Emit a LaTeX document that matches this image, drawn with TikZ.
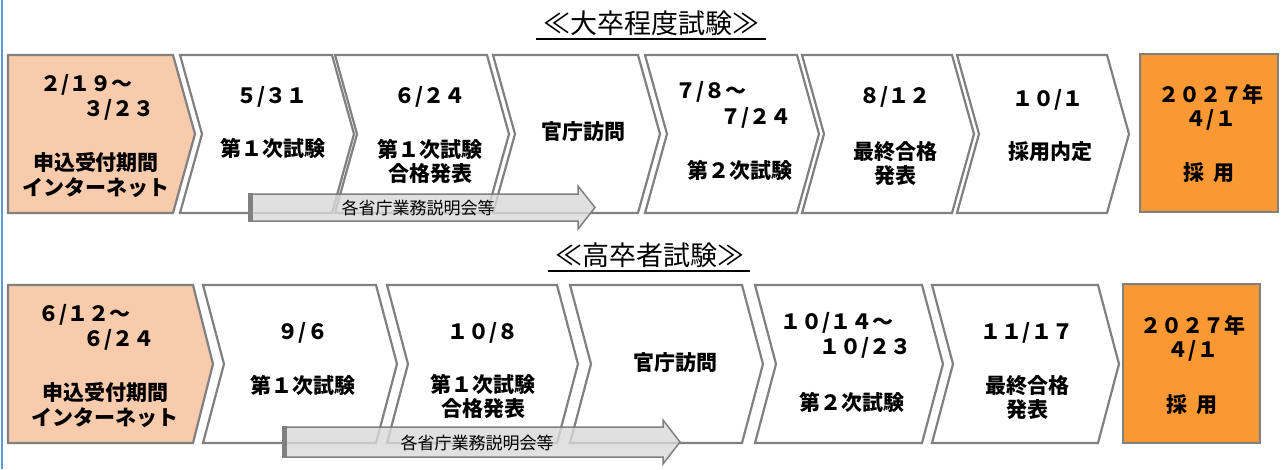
\documentclass[tikz,border=0pt]{standalone}
\usepackage{fontspec}
\newfontfamily\jp{Noto Sans CJK JP}
\definecolor{edge}{RGB}{128,128,128}
\definecolor{peach}{RGB}{248,203,173}
\definecolor{orng}{RGB}{250,153,51}
\definecolor{barfill}{RGB}{217,217,217}
\definecolor{bluel}{RGB}{91,155,213}
\newcommand\chevpath[5]{(#1,#2) -- (#1+#4,#2) -- (#1+#4+#5,{(#2+#3)/2}) -- (#1+#4,#3) -- (#1,#3) -- (#1+#5,{(#2+#3)/2}) -- cycle}
\tikzset{
  box/.style={draw=edge, line width=2.2pt, line join=miter},
  chev/.style={box, fill=white},
  txt/.style={font=\jp\bfseries\fontsize{21}{24.5}\selectfont, inner sep=0pt, align=center},
  ttl/.style={font=\jp\fontsize{27}{30}\selectfont, inner sep=0pt},
  bartxt/.style={font=\jp\fontsize{17}{20}\selectfont, inner sep=0pt},
  bar/.style={draw=edge, line width=1.5pt, fill=barfill, fill opacity=0.8},
}
\begin{document}
\begin{tikzpicture}[x=1pt,y=-1pt]
\useasboundingbox (0,0) rectangle (1283,469);
\draw[bluel, line width=2pt] (2,0) -- (2,469);

% titles
\node[ttl] (t1) at (651,23) {≪大卒程度試験≫};
\draw[line width=2pt] (536,39) -- (766,39);
\node[ttl] (t2) at (650,255) {≪高卒者試験≫};
\draw[line width=2pt] (548,271) -- (750,271);

% ---------- top row ----------
\draw[box, fill=peach] (8,55) -- (173,55) -- (195,134) -- (173,213) -- (8,213) -- cycle;
\draw[chev] \chevpath{180}{55}{213}{152}{22};
\draw[chev] \chevpath{335}{55}{213}{152}{22};
\draw[chev] \chevpath{493}{55}{213}{145}{22};
\draw[chev] \chevpath{645}{55}{213}{152}{22};
\draw[chev] \chevpath{802}{55}{213}{150}{22};
\draw[chev] \chevpath{957}{55}{213}{150}{22};
\draw[box, fill=orng] (1140,54) rectangle (1278,212);

\node[txt, anchor=west] (a1) at (40,85) {２/１９～};
\node[txt, anchor=east] (a2) at (155,110) {３/２３};
\node[txt] (a3) at (96,175) {申込受付期間\\インターネット};
\node[txt] (b1) at (272,97) {５/３１};
\node[txt] (b2) at (273,148) {第１次試験};
\node[txt] (c1) at (430,97) {６/２４};
\node[txt] (c2) at (430,161.5) {第１次試験\\合格発表};
\node[txt] (d1) at (583,132) {官庁訪問};
\node[txt, anchor=west] (e1) at (675,92) {７/８～};
\node[txt, anchor=east] (e2) at (792,118) {７/２４};
\node[txt] (e3) at (740,170) {第２次試験};
\node[txt] (f1) at (895,97) {８/１２};
\node[txt] (f2) at (895,163.5) {最終合格\\発表};
\node[txt] (g1) at (1048,100) {１０/１};
\node[txt] (g2) at (1050,152) {採用内定};
\node[txt] (h1) at (1211,107.5) {２０２７年\\４/１};
\node[txt] (h2) at (1209,173) {採\hspace{0.45em}用};

% gray bar top
\draw[bar] (250,194) -- (578,194) -- (578,186) -- (595,207.5) -- (578,229) -- (578,221) -- (250,221) -- cycle;
\fill[edge] (248,193) rectangle (253,222);
\node[bartxt] (i1) at (418,208) {各省庁業務説明会等};

% ---------- bottom row ----------
\draw[box, fill=peach] (8,285) -- (193,285) -- (213,364) -- (193,443) -- (8,443) -- cycle;
\draw[chev] \chevpath{203}{285}{443}{173}{21};
\draw[chev] \chevpath{387}{285}{443}{170}{21};
\draw[chev] \chevpath{570}{285}{443}{172}{21};
\draw[chev] \chevpath{755}{285}{443}{167}{21};
\draw[chev] \chevpath{932}{285}{443}{166}{21};
\draw[box, fill=orng] (1123,284) rectangle (1260,443);

\node[txt, anchor=west] (j1) at (38,315) {６/１２～};
\node[txt, anchor=east] (j2) at (155,340) {６/２４};
\node[txt] (j3) at (105,405) {申込受付期間\\インターネット};
\node[txt] (k1) at (303,333) {９/６};
\node[txt] (k2) at (303,385) {第１次試験};
\node[txt] (l1) at (483,333) {１０/８};
\node[txt] (l2) at (483,396.5) {第１次試験\\合格発表};
\node[txt] (m1) at (675,363) {官庁訪問};
\node[txt, anchor=west] (n1) at (780,323) {１０/１４～};
\node[txt, anchor=east] (n2) at (912,348) {１０/２３};
\node[txt] (n3) at (852,402) {第２次試験};
\node[txt] (o1) at (1027,333) {１１/１７};
\node[txt] (o2) at (1027,397.5) {最終合格\\発表};
\node[txt] (p1) at (1193,338.5) {２０２７年\\４/１};
\node[txt] (p2) at (1192,405) {採\hspace{0.45em}用};

% gray bar bottom
\draw[bar] (284,427) -- (663,427) -- (663,420) -- (680,442) -- (663,464) -- (663,457) -- (284,457) -- cycle;
\fill[edge] (282,426) rectangle (287,458);
\node[bartxt] (q1) at (477,443) {各省庁業務説明会等};
\end{tikzpicture}
\end{document}
